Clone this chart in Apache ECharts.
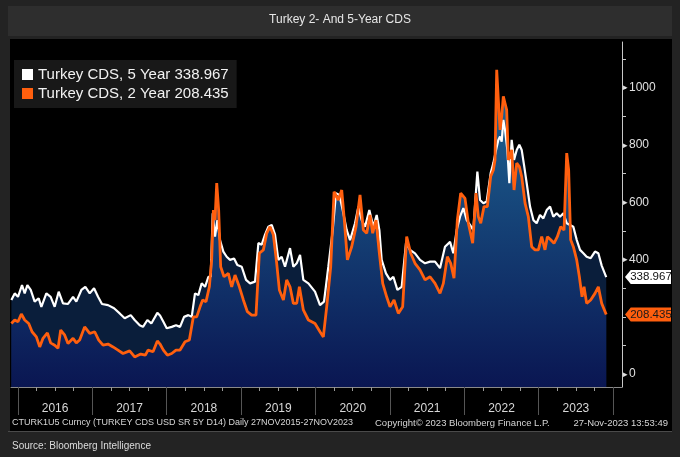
<!DOCTYPE html>
<html><head><meta charset="utf-8">
<script src="https://cdn.jsdelivr.net/npm/echarts@6/dist/echarts.min.js"></script>
<style>html,body{margin:0;padding:0;background:#232323;}#c{width:680px;height:457px;}</style>
</head><body><div id="c"></div>
<script>
const chartTitle = 'Turkey 2- And 5-Year CDS';
const name5 = 'Turkey CDS, 5 Year';
const name2 = 'Turkey CDS, 2 Year';
const yearLabels = [2016, 2017, 2018, 2019, 2020, 2021, 2022, 2023];
const yTickLabels = [0, 400, 600, 800, 1000];
const footerLeft = 'CTURK1U5 Curncy (TURKEY CDS USD SR 5Y D14) Daily 27NOV2015-27NOV2023';
const footerMid = 'Copyright\u00a9 2023 Bloomberg Finance L.P.';
const footerRight = '27-Nov-2023 13:53:49';
const sourceText = 'Source: Bloomberg Intelligence';
const xStart = 2015.907, xEnd = 2024.119;

const t5 = [2015.912,2015.957,2016.001,2016.055,2016.091,2016.127,2016.172,2016.225,2016.279,2016.315,2016.382,2016.440,2016.494,2016.548,2016.606,2016.673,2016.741,2016.785,2016.853,2016.906,2016.965,2017.023,2017.077,2017.130,2017.211,2017.292,2017.368,2017.435,2017.516,2017.569,2017.637,2017.681,2017.740,2017.793,2017.874,2017.910,2017.955,2018.000,2018.067,2018.125,2018.179,2018.233,2018.291,2018.336,2018.380,2018.425,2018.470,2018.515,2018.560,2018.591,2018.618,2018.649,2018.681,2018.716,2018.761,2018.806,2018.851,2018.905,2018.949,2019.008,2019.066,2019.120,2019.187,2019.232,2019.276,2019.321,2019.366,2019.411,2019.456,2019.500,2019.545,2019.590,2019.657,2019.702,2019.747,2019.792,2019.836,2019.904,2019.993,2020.060,2020.114,2020.172,2020.231,2020.275,2020.320,2020.365,2020.419,2020.464,2020.531,2020.576,2020.620,2020.665,2020.723,2020.777,2020.822,2020.858,2020.889,2020.947,2021.001,2021.046,2021.100,2021.158,2021.216,2021.270,2021.337,2021.404,2021.472,2021.539,2021.606,2021.673,2021.740,2021.808,2021.852,2021.897,2021.942,2021.987,2022.032,2022.076,2022.121,2022.175,2022.211,2022.256,2022.300,2022.354,2022.390,2022.426,2022.457,2022.480,2022.502,2022.524,2022.547,2022.578,2022.605,2022.636,2022.668,2022.704,2022.739,2022.771,2022.802,2022.838,2022.883,2022.928,2022.972,2023.017,2023.062,2023.107,2023.152,2023.196,2023.241,2023.286,2023.331,2023.376,2023.420,2023.465,2023.510,2023.555,2023.600,2023.644,2023.698,2023.756,2023.801,2023.846,2023.907];
const cds5 = [259,282,270,311,282,311,294,253,265,235,282,270,235,288,247,245,270,253,294,305,282,300,270,245,241,230,212,195,206,189,171,165,189,177,214,205,183,160,165,171,165,200,206,200,282,276,317,305,340,340,562,480,538,468,428,410,399,404,381,375,329,317,323,458,452,487,515,521,487,399,410,375,440,375,387,416,329,317,288,241,253,375,503,632,626,573,503,468,527,585,538,515,573,515,556,503,399,352,329,340,294,305,458,434,422,399,387,393,393,370,445,462,422,503,550,580,538,521,503,707,608,597,603,702,737,783,818,830,812,888,853,783,667,818,748,783,801,783,731,667,585,538,527,556,544,573,585,550,562,550,562,527,521,515,469,434,422,410,405,428,422,379,338.967];

const t2 = [2015.912,2015.957,2016.001,2016.046,2016.091,2016.145,2016.190,2016.248,2016.293,2016.337,2016.396,2016.440,2016.494,2016.539,2016.575,2016.629,2016.673,2016.741,2016.785,2016.830,2016.897,2016.965,2017.032,2017.086,2017.144,2017.211,2017.278,2017.345,2017.413,2017.502,2017.569,2017.650,2017.713,2017.749,2017.816,2017.874,2017.910,2017.955,2018.009,2018.067,2018.125,2018.179,2018.246,2018.304,2018.358,2018.403,2018.448,2018.483,2018.528,2018.573,2018.604,2018.627,2018.649,2018.672,2018.698,2018.725,2018.770,2018.828,2018.873,2018.918,2018.976,2019.030,2019.084,2019.142,2019.200,2019.245,2019.299,2019.344,2019.388,2019.433,2019.478,2019.514,2019.568,2019.612,2019.657,2019.702,2019.747,2019.783,2019.836,2019.904,2019.993,2020.060,2020.105,2020.150,2020.204,2020.249,2020.307,2020.352,2020.387,2020.428,2020.486,2020.544,2020.598,2020.643,2020.688,2020.732,2020.768,2020.813,2020.858,2020.903,2020.956,2021.001,2021.055,2021.113,2021.171,2021.225,2021.279,2021.337,2021.404,2021.472,2021.539,2021.606,2021.673,2021.718,2021.772,2021.817,2021.861,2021.906,2021.951,2022.009,2022.054,2022.112,2022.157,2022.188,2022.220,2022.264,2022.309,2022.354,2022.390,2022.412,2022.435,2022.457,2022.480,2022.502,2022.524,2022.547,2022.569,2022.592,2022.614,2022.636,2022.668,2022.704,2022.739,2022.771,2022.816,2022.860,2022.905,2022.950,2022.995,2023.040,2023.084,2023.116,2023.161,2023.205,2023.250,2023.295,2023.340,2023.376,2023.402,2023.429,2023.465,2023.510,2023.546,2023.582,2023.609,2023.644,2023.698,2023.756,2023.801,2023.846,2023.907];
const cds2 = [177,189,183,210,189,177,148,130,95,125,144,109,101,90,154,136,107,125,109,119,165,142,148,119,101,105,95,84,72,81,60,70,66,84,78,116,105,84,66,72,84,84,113,119,200,200,235,259,253,305,399,573,538,667,573,375,340,352,305,346,305,259,218,206,206,422,434,492,515,487,387,294,259,329,305,247,247,305,224,189,177,148,130,235,375,637,608,643,538,399,445,515,626,503,492,556,492,538,422,317,270,235,259,212,235,480,422,387,364,329,340,317,282,317,410,387,335,538,632,614,527,457,632,550,527,585,585,690,713,748,1063,958,853,900,970,946,923,748,760,783,643,737,725,690,597,550,445,434,434,480,434,480,469,457,480,515,503,772,713,469,445,399,340,270,305,247,259,282,305,247,208.435];

const last5 = cds5[cds5.length - 1];
const last2 = cds2[cds2.length - 1];
const data5 = t5.map((t, i) => [t, cds5[i]]);
const data2 = t2.map((t, i) => [t, cds2[i]]);

const quarterTicks = [];
yearLabels.forEach(y => { for (let q = 0; q < 4; q++) quarterTicks.push(y + q * 0.25); });
quarterTicks.push(yearLabels[yearLabels.length - 1] + 1);
const yearBounds = yearLabels.concat([yearLabels[yearLabels.length - 1] + 1]);
const yMinor = [];
for (let v = 0; v <= 1100; v += 100) yMinor.push(v);

const WHITE = '#ffffff', ORANGE = '#ff5f0e';
const FONT = 'Liberation Sans, Arial, sans-serif';

const flag = (val, fill, txt) => ({
  symbol: 'path://M0,7 L6,0 L48,0 L48,14 L6,14 Z',
  symbolSize: [46, 14],
  symbolOffset: [26, 0],
  silent: true,
  itemStyle: { color: fill },
  label: { show: true, position: 'inside', offset: [3, 0], color: txt, fontSize: 11.5, fontFamily: FONT, formatter: () => val.toFixed(3) },
  data: [{ coord: [xEnd, val] }]
});

const chart = echarts.init(document.getElementById('c'), null, { renderer: 'canvas' });
chart.setOption({
  backgroundColor: '#232323',
  animation: false,
  textStyle: { fontFamily: FONT },
  graphic: [
    { type: 'rect', z: -10, shape: { x: 8, y: 6, width: 664, height: 30 }, style: { fill: '#2e2e2e' } },
    { type: 'rect', z: -10, shape: { x: 10, y: 39, width: 662, height: 392 }, style: { fill: '#000000' } },
    { type: 'rect', z: -10, shape: { x: 8, y: 431, width: 664, height: 1 }, style: { fill: '#4a4a4a' } },
    { type: 'text', z: 10, style: { x: 340, y: 20, text: chartTitle, fill: '#e6e6e6', font: '12px ' + FONT, textAlign: 'center', textVerticalAlign: 'middle' } },
    { type: 'text', z: 10, style: { x: 12, y: 423, text: footerLeft, fill: '#d6d6d6', font: '9px ' + FONT, textAlign: 'left', textVerticalAlign: 'middle' } },
    { type: 'text', z: 10, style: { x: 375, y: 423, text: footerMid, fill: '#d6d6d6', font: '9.5px ' + FONT, textAlign: 'left', textVerticalAlign: 'middle' } },
    { type: 'text', z: 10, style: { x: 668, y: 423, text: footerRight, fill: '#d6d6d6', font: '9.5px ' + FONT, textAlign: 'right', textVerticalAlign: 'middle' } },
    { type: 'text', z: 10, style: { x: 12, y: 446, text: sourceText, fill: '#dcdcdc', font: '10px ' + FONT, textAlign: 'left', textVerticalAlign: 'middle' } }
  ],
  grid: { left: 11, right: 58, top: 42, bottom: 70, containLabel: false, outerBoundsMode: 'none' },
  legend: {
    data: [name5, name2], orient: 'vertical', left: 14, top: 60,
    backgroundColor: '#181818', padding: [7, 8, 7, 8], itemGap: 4,
    itemWidth: 11, itemHeight: 11, icon: 'rect',
    textStyle: { color: '#f2f2f2', fontSize: 15, fontFamily: FONT },
    formatter: n => n + ' ' + (n === name5 ? last5 : last2).toFixed(3)
  },
  xAxis: [
    {
      type: 'value', min: xStart, max: xEnd, position: 'bottom',
      splitLine: { show: false },
      axisLine: { show: true, onZero: false, lineStyle: { color: '#8a8a8a', width: 1 } },
      axisTick: { show: true, customValues: quarterTicks, length: 4, lineStyle: { color: '#9a9a9a' } },
      axisLabel: { show: true, customValues: yearLabels.map(y => y + 0.5), formatter: v => String(Math.floor(v)), margin: 16, color: '#d8d8d8', fontSize: 12, fontFamily: FONT }
    },
    {
      type: 'value', min: xStart, max: xEnd, position: 'bottom',
      splitLine: { show: false },
      axisLine: { show: false, onZero: false },
      axisTick: { show: true, customValues: yearBounds, length: 28, lineStyle: { color: '#555555' } },
      axisLabel: { show: false }
    }
  ],
  yAxis: {
    type: 'value', position: 'right', min: -45, max: 1160,
    splitLine: { show: false },
    axisLine: { show: true, lineStyle: { color: '#c8c8c8', width: 1 } },
    axisTick: { show: true, customValues: yMinor, length: 4, lineStyle: { color: '#c8c8c8' } },
    axisLabel: {
      show: true, customValues: yTickLabels, margin: 1, color: '#e0e0e0', fontSize: 12, fontFamily: FONT,
      formatter: v => '{m|\u25b8}' + v,
      rich: { m: { fontSize: 9, color: '#e0e0e0', padding: [0, 1, 0, 0] } }
    }
  },
  series: [
    { name: 'area5', type: 'line', data: data5, showSymbol: false, z: 1, lineStyle: { width: 0 },
      areaStyle: { origin: 'start', color: '#0a1e3b', opacity: 1 }, silent: true },
    { name: 'area2', type: 'line', data: data2, showSymbol: false, z: 2, lineStyle: { width: 0 },
      areaStyle: { origin: 'start', opacity: 1, color: new echarts.graphic.LinearGradient(0, 0, 0, 1, [
        { offset: 0, color: '#1f6a98' }, { offset: 1, color: '#0a1652' }]) }, silent: true },
    { name: name5, type: 'line', data: data5, showSymbol: false, z: 3, color: WHITE,
      lineStyle: { color: WHITE, width: 2.2 }, markPoint: flag(last5, '#ffffff', '#111111') },
    { name: name2, type: 'line', data: data2, showSymbol: false, z: 4, color: ORANGE,
      lineStyle: { color: ORANGE, width: 2.8 }, markPoint: flag(last2, ORANGE, '#1a1a1a') }
  ]
});
</script></body></html>
